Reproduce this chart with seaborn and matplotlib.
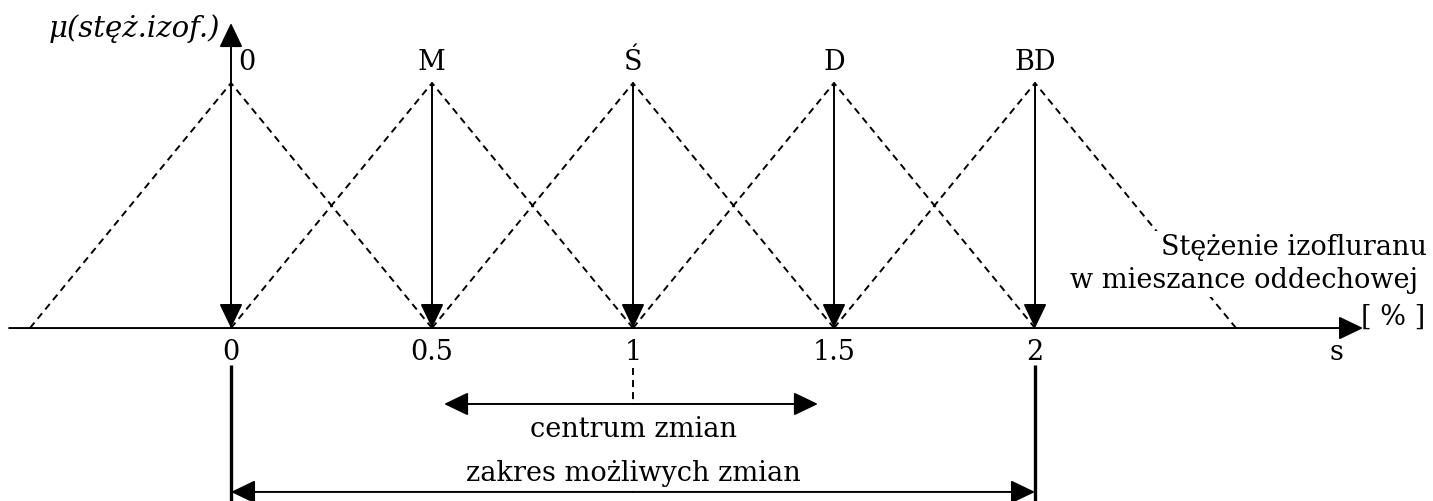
import numpy as np
import pandas as pd
import matplotlib
matplotlib.use("Agg")
from matplotlib import pyplot as plt
import seaborn as sns

sns.set_theme(style="white")
plt.rcParams['font.family'] = ['DejaVu Serif', 'DejaVu Sans']
plt.rcParams['text.color'] = 'black'

# membership function data
set_labels = ['0', 'M', 'Ś', 'D', 'BD']
peaks = [0, 0.5, 1, 1.5, 2]
spread = 0.5
tick_values = [0, 0.5, 1, 1.5, 2]
tick_labels = ['0', '0.5', '1', '1.5', '2']
centre_range = [0.53, 1.46]
full_range = [0, 2]

rows = []
for lab, p in zip(set_labels, peaks):
    rows += [dict(zbior=lab, x=p - spread, mu=0),
             dict(zbior=lab, x=p, mu=1),
             dict(zbior=lab, x=p + spread, mu=0)]
df = pd.DataFrame(rows)

fig = plt.figure(figsize=(14.33, 5.01), dpi=100)
ax = fig.add_axes([0, 0, 1, 1])
ax.set_xlim(-0.5746, 2.990)
ax.set_ylim(-0.706, 1.339)
ax.axis('off')

sns.lineplot(data=df, x='x', y='mu', units='zbior', estimator=None, sort=False,
             color='black', lw=1.4, linestyle=(0, (3.6, 2.6)), ax=ax, legend=False)

FS = 19.5
head = '-|>,head_length=0.75,head_width=0.36'

def arrow(x0, y0, x1, y1, style=head, lw=1.4):
    ax.annotate('', xy=(x1, y1), xytext=(x0, y0),
                arrowprops=dict(arrowstyle=style, color='black', lw=lw,
                                shrinkA=0, shrinkB=0, mutation_scale=20))

# axes
arrow(-0.552, 0, 2.816, 0)
arrow(0, 0, 0, 1.245)
ax.text(-0.027, 1.224, 'μ(stęż.izof.)', fontsize=21, style='italic',
        ha='right', va='center')

# vertical arrows at peaks + set labels
for lab, p in zip(set_labels, peaks):
    arrow(p, 1, p, 0)
    if p == 0:
        ax.text(0.017, 1.082, lab, fontsize=FS, ha='left', va='center')
    else:
        ax.text(p, 1.082, lab, fontsize=FS, ha='center', va='center')

for v, t in zip(tick_values, tick_labels):
    ax.text(v, -0.098, t, fontsize=FS, ha='center', va='center')
ax.text(2.751, -0.098, 's', fontsize=FS, ha='center', va='center')

ax.text(2.975, 0.261, 'Stężenie izofluranu\nw mieszance oddechowej ',
        fontsize=FS, ha='right', va='center', multialignment='right',
        linespacing=1.3, zorder=5,
        bbox=dict(facecolor='white', edgecolor='none', pad=2))
ax.text(2.970, 0.045, '[ % ]', fontsize=FS, ha='right', va='center')

# centre of changes
ax.plot([1, 1], [-0.163, -0.310], color='black', lw=1.4, linestyle=(0, (3.6, 2.6)))
arrow(1, -0.310, centre_range[0], -0.310)
arrow(1, -0.310, centre_range[1], -0.310)
ax.text(1, -0.416, 'centrum zmian', fontsize=FS, ha='center', va='center')

# range of possible changes
for v in full_range:
    ax.plot([v, v], [-0.151, -0.75], color='black', lw=2.4, solid_capstyle='butt')
arrow(1, -0.669, full_range[0], -0.669)
arrow(1, -0.669, full_range[1], -0.669)
ax.text(1, -0.592, 'zakres możliwych zmian', fontsize=FS, ha='center', va='center')

fig.savefig('out.png', dpi=100)
